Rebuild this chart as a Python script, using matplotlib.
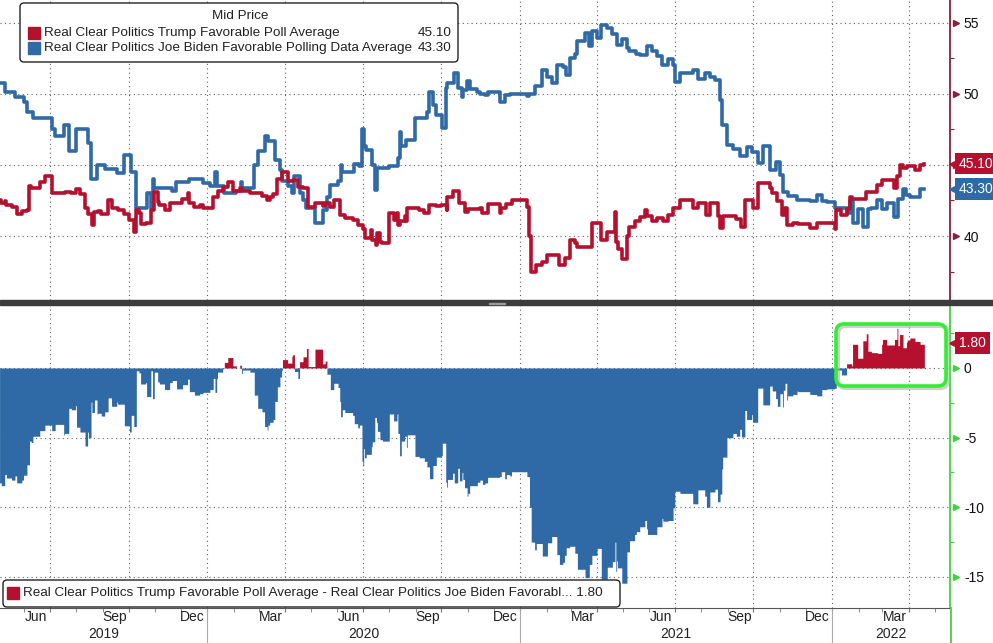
import pandas as pd
import matplotlib
matplotlib.use("Agg")
import matplotlib.pyplot as plt
import matplotlib.dates as mdates
import matplotlib.transforms as mtransforms
from matplotlib.patches import FancyBboxPatch, Rectangle
from matplotlib.lines import Line2D

# step points (date, value)
trump_dates = [
    "2019-05-03", "2019-05-05", "2019-05-09", "2019-05-11", "2019-05-17", "2019-05-23", "2019-05-29",
    "2019-06-04", "2019-06-07", "2019-06-09", "2019-06-19", "2019-06-25", "2019-07-03", "2019-07-18",
    "2019-07-26", "2019-07-31", "2019-08-05", "2019-08-11", "2019-08-15", "2019-08-19", "2019-08-22",
    "2019-08-26", "2019-08-30", "2019-09-07", "2019-09-11", "2019-09-18", "2019-09-26", "2019-10-02",
    "2019-10-07", "2019-10-10", "2019-10-13", "2019-10-15", "2019-10-21", "2019-10-27", "2019-10-31",
    "2019-11-04", "2019-11-06", "2019-11-12", "2019-11-18", "2019-12-03", "2019-12-09", "2019-12-11",
    "2019-12-17", "2019-12-23", "2019-12-27", "2020-01-08", "2020-01-13", "2020-01-19", "2020-01-25",
    "2020-01-31", "2020-02-08", "2020-02-11", "2020-02-20", "2020-03-05", "2020-03-11", "2020-03-14",
    "2020-03-18", "2020-03-23", "2020-03-28", "2020-04-04", "2020-04-10", "2020-04-16", "2020-04-22",
    "2020-04-28", "2020-05-06", "2020-05-15", "2020-05-18", "2020-05-24", "2020-05-28", "2020-06-04",
    "2020-06-10", "2020-06-19", "2020-06-25", "2020-07-01", "2020-07-03", "2020-07-11", "2020-07-12",
    "2020-07-17", "2020-07-18", "2020-07-21", "2020-07-24", "2020-08-01", "2020-08-06", "2020-08-10",
    "2020-08-11", "2020-08-13", "2020-08-19", "2020-08-21", "2020-08-22", "2020-09-05", "2020-09-11",
    "2020-09-17", "2020-09-25", "2020-10-01", "2020-10-07", "2020-10-08", "2020-10-14", "2020-10-22",
    "2020-10-28", "2020-11-01", "2020-11-15", "2020-11-18", "2020-11-24", "2020-12-08", "2020-12-10",
    "2020-12-16", "2020-12-22", "2021-01-09", "2021-01-12", "2021-01-14", "2021-01-20", "2021-01-27",
    "2021-02-02", "2021-02-16", "2021-02-22", "2021-02-28", "2021-03-06", "2021-03-09", "2021-03-26",
    "2021-04-06", "2021-04-13", "2021-04-22", "2021-04-23", "2021-04-25", "2021-04-30", "2021-05-06",
    "2021-05-09", "2021-05-15", "2021-05-21", "2021-05-27", "2021-05-30", "2021-06-04", "2021-06-10",
    "2021-06-17", "2021-06-23", "2021-06-29", "2021-07-07", "2021-07-22", "2021-07-28", "2021-08-07",
    "2021-08-11", "2021-08-20", "2021-08-23", "2021-08-26", "2021-09-11", "2021-09-17", "2021-09-21",
    "2021-09-30", "2021-10-06", "2021-10-20", "2021-10-23", "2021-10-29", "2021-11-04", "2021-11-07",
    "2021-11-09", "2021-11-16", "2021-11-22", "2021-12-06", "2021-12-14", "2022-01-04", "2022-01-06",
    "2022-01-12", "2022-01-18", "2022-01-22", "2022-01-24", "2022-02-10", "2022-02-23", "2022-03-01",
    "2022-03-15", "2022-03-18", "2022-03-21", "2022-03-25", "2022-03-30", "2022-04-08", "2022-04-14",
    "2022-04-19",
]
trump_vals = [
    42.5, 42.3, 42.45, 42.2, 42.05, 41.55, 41.75,
    41.8, 43.5, 43.4, 43.8, 44.2, 43.0, 43.1,
    43.0, 43.3, 42.95, 41.95, 41.55, 40.8, 41.7,
    41.75, 41.55, 42.55, 41.95, 41.8, 41.55, 41.1,
    40.3, 41.8, 41.65, 40.85, 40.95, 41.8, 43.1,
    42.4, 42.2, 41.8, 42.3, 42.6, 43.0, 42.3,
    42.05, 42.15, 41.95, 42.75, 43.2, 43.45, 43.8,
    43.2, 43.4, 43.2, 43.05, 42.8, 42.55, 42.75,
    42.95, 44.0, 44.5, 43.85, 43.95, 43.45, 43.35,
    42.05, 42.3, 42.1, 42.3, 42.05, 42.5, 41.5,
    41.3, 41.1, 40.8, 40.5, 39.85, 40.4, 39.7,
    39.35, 40.2, 39.6, 39.5, 41.6, 41.1, 41.6,
    40.8, 41.05, 41.4, 41.05, 41.95, 41.85, 41.6,
    42.2, 42.1, 42.2, 41.85, 42.75, 43.2, 42.3,
    41.7, 41.9, 41.95, 41.65, 42.25, 41.6, 41.95,
    42.25, 42.55, 42.05, 40.0, 37.5, 37.95, 38.2,
    38.65, 37.95, 38.45, 39.7, 39.5, 39.25, 40.95,
    39.7, 40.3, 41.7, 39.6, 39.1, 38.4, 40.0,
    40.6, 41.05, 41.35, 41.8, 41.4, 41.05, 41.25,
    41.05, 41.5, 41.95, 42.5, 41.95, 42.3, 41.5,
    42.3, 41.4, 40.55, 41.4, 41.2, 40.65, 42.55,
    42.0, 43.7, 43.35, 43.0, 42.45, 41.5, 42.0,
    40.8, 40.9, 40.85, 40.55, 40.9, 40.5, 41.8,
    41.45, 41.9, 42.75, 42.6, 43.1, 43.6, 43.95,
    43.4, 44.2, 45.0, 44.75, 44.9, 44.65, 45.0,
    45.1,
]

biden_dates = [
    "2019-05-03", "2019-05-09", "2019-05-21", "2019-05-31", "2019-06-04", "2019-06-11", "2019-07-03",
    "2019-07-07", "2019-07-17", "2019-07-23", "2019-08-01", "2019-08-14", "2019-08-18", "2019-08-25",
    "2019-09-03", "2019-09-17", "2019-09-26", "2019-10-04", "2019-10-10", "2019-10-22", "2019-10-27",
    "2019-10-29", "2019-10-31", "2019-11-06", "2019-11-21", "2019-11-26", "2019-12-11", "2019-12-27",
    "2020-01-04", "2020-01-10", "2020-01-12", "2020-01-21", "2020-02-04", "2020-02-10", "2020-02-11",
    "2020-02-25", "2020-02-29", "2020-03-08", "2020-03-12", "2020-03-20", "2020-03-26", "2020-03-29",
    "2020-04-04", "2020-04-09", "2020-04-12", "2020-04-18", "2020-04-22", "2020-04-26", "2020-05-06",
    "2020-05-15", "2020-05-20", "2020-05-24", "2020-06-02", "2020-06-05", "2020-06-07", "2020-06-21",
    "2020-06-27", "2020-06-30", "2020-07-02", "2020-07-05", "2020-07-12", "2020-07-15", "2020-07-18",
    "2020-08-01", "2020-08-11", "2020-08-13", "2020-08-15", "2020-08-21", "2020-08-31", "2020-09-14",
    "2020-09-17", "2020-09-21", "2020-09-25", "2020-10-02", "2020-10-06", "2020-10-08", "2020-10-16",
    "2020-10-20", "2020-10-25", "2020-10-26", "2020-10-31", "2020-11-03", "2020-11-12", "2020-11-15",
    "2020-11-21", "2020-11-24", "2020-12-08", "2020-12-14", "2020-12-20", "2021-01-09", "2021-01-12",
    "2021-01-18", "2021-01-27", "2021-02-02", "2021-02-07", "2021-02-13", "2021-02-20", "2021-02-24",
    "2021-02-28", "2021-03-06", "2021-03-09", "2021-03-18", "2021-03-23", "2021-03-26", "2021-04-01",
    "2021-04-06", "2021-04-13", "2021-04-19", "2021-04-24", "2021-04-30", "2021-05-06", "2021-05-09",
    "2021-05-17", "2021-05-21", "2021-05-29", "2021-06-04", "2021-06-10", "2021-06-16", "2021-06-23",
    "2021-06-29", "2021-07-01", "2021-07-07", "2021-07-22", "2021-07-28", "2021-08-05", "2021-08-11",
    "2021-08-17", "2021-08-23", "2021-08-25", "2021-08-31", "2021-09-07", "2021-09-15", "2021-09-23",
    "2021-09-29", "2021-10-06", "2021-10-12", "2021-10-20", "2021-10-27", "2021-11-01", "2021-11-05",
    "2021-11-10", "2021-11-21", "2021-12-06", "2021-12-14", "2021-12-20", "2021-12-26", "2022-01-04",
    "2022-01-18", "2022-01-22", "2022-01-25", "2022-01-31", "2022-02-06", "2022-02-12", "2022-02-16",
    "2022-02-23", "2022-02-28", "2022-03-06", "2022-03-15", "2022-03-19", "2022-03-25", "2022-03-29",
    "2022-04-02", "2022-04-14", "2022-04-19",
]
biden_vals = [
    50.75, 50.1, 49.8, 49.45, 48.75, 48.3, 47.5,
    47.05, 47.8, 46.0, 47.55, 46.55, 44.0, 45.0,
    44.7, 44.4, 45.7, 44.5, 42.0, 43.0, 42.0,
    44.0, 43.4, 43.35, 43.2, 43.8, 44.0, 43.7,
    43.5, 44.5, 43.5, 43.05, 43.2, 43.8, 43.35,
    45.0, 45.95, 47.0, 46.65, 45.35, 44.65, 43.9,
    43.5, 43.0, 44.2, 43.0, 42.55, 41.95, 40.95,
    41.8, 42.75, 43.6, 43.9, 45.0, 44.5, 45.1,
    44.9, 47.5, 46.3, 46.05, 45.0, 43.25, 44.75,
    44.9, 45.5, 47.35, 46.3, 46.75, 48.3, 48.7,
    50.15, 49.2, 48.5, 47.6, 50.4, 50.75, 51.45,
    50.4, 49.8, 50.3, 50.9, 50.35, 50.1, 50.0,
    49.9, 50.1, 49.4, 49.9, 50.0, 49.85, 50.0,
    50.55, 51.7, 51.2, 50.75, 52.05, 51.9, 51.35,
    52.5, 52.8, 53.7, 54.3, 53.35, 54.4, 53.9,
    54.85, 54.6, 54.2, 53.45, 53.85, 53.2, 53.0,
    52.8, 52.75, 53.35, 53.0, 52.65, 52.05, 52.45,
    52.0, 50.8, 51.5, 51.7, 51.05, 51.5, 51.2,
    51.0, 49.6, 47.8, 46.4, 46.1, 45.6, 46.25,
    45.9, 45.15, 46.35, 44.65, 45.2, 44.3, 43.1,
    42.8, 42.55, 42.45, 42.9, 42.45, 42.4, 41.95,
    41.6, 42.45, 40.9, 41.9, 40.65, 41.9, 42.0,
    42.55, 41.9, 42.3, 41.35, 42.6, 43.3, 42.9,
    42.75, 43.3, 43.3,
]

trump_name = "Real Clear Politics Trump Favorable Poll Average"
biden_name = "Real Clear Politics Joe Biden Favorable Polling Data Average"
spread_name = ("Real Clear Politics Trump Favorable Poll Average - "
               "Real Clear Politics Joe Biden Favorabl...")
top_ticks = [40, 45, 50, 55]
top_labels = ["40", "", "50", "55"]   # 45 sits under the value tag
top_minor = [37.5, 42.5, 47.5, 52.5]
bottom_ticks = [0, -5, -10, -15]
bottom_labels = ["0", "-5", "-10", "-15"]
bottom_minor = [2.5, -2.5, -7.5, -12.5]
month_names = {3: "Mar", 6: "Jun", 9: "Sep", 12: "Dec"}
years = [2019, 2020, 2021, 2022]

RED = "#b5112f"
BLUE = "#2f69a6"
MAROON = "#8a1f3f"
GREEN = "#3fd43f"
GRID = "#606060"

plt.rcParams["font.family"] = "Liberation Sans"

trump = pd.Series(trump_vals, index=pd.to_datetime(trump_dates))
biden = pd.Series(biden_vals, index=pd.to_datetime(biden_dates))
idx = trump.index.union(biden.index)
spread = trump.reindex(idx).ffill() - biden.reindex(idx).ffill()

W, H = 993, 643
fig = plt.figure(figsize=(W / 100, H / 100), dpi=100)
px = mtransforms.IdentityTransform()

ax1 = fig.add_axes([0, 1 - 300 / H, 950 / W, 300 / H])
ax2 = fig.add_axes([0, 1 - 608 / H, 950 / W, 303 / H])

xmin = pd.Timestamp("2019-05-03 12:00")
xmax = pd.Timestamp("2022-05-19 00:00")
quarters = [pd.Timestamp(y, m, 1) for y in years + [2023] for m in (1, 4, 7, 10)]
quarters = [d for d in quarters if xmin < d < xmax]

# top panel
ax1.step(biden.index, biden.values, where="post", color=BLUE, lw=2.6, zorder=3)
ax1.step(trump.index, trump.values, where="post", color=RED, lw=2.6, zorder=4)
ax1.set_ylim(35.5, 56.6)

# bottom panel: spread as bars
pos = spread.where(spread > 0, 0)
neg = spread.where(spread < 0, 0)
ax2.fill_between(spread.index, 0, neg.values, step="post", color=BLUE, lw=0, zorder=2)
ax2.fill_between(spread.index, 0, pos.values, step="post", color=RED, lw=0, zorder=2)
ax2.set_ylim(-17.23, 4.52)

for ax, ticks, labels, minor, scol in ((ax1, top_ticks, top_labels, top_minor, MAROON),
                                       (ax2, bottom_ticks, bottom_labels, bottom_minor, GREEN)):
    ax.set_xlim(xmin, xmax)
    ax.set_xticks(quarters)
    ax.yaxis.tick_right()
    ax.set_yticks(ticks)
    ax.set_yticklabels(labels)
    ax.set_yticks(minor, minor=True)
    ax.tick_params(axis="y", which="major", length=0, pad=10, labelsize=10, labelcolor="#111")
    ax.tick_params(axis="y", which="minor", length=3, width=0.8, color=scol)
    ax.grid(True, which="major", linestyle=(0, (1, 3)), color=GRID, lw=0.8, zorder=0)
    ax.set_axisbelow(True)
    for s in ("top", "left", "bottom"):
        ax.spines[s].set_visible(False)
    ax.spines["right"].set_color(scol)
    ax.spines["right"].set_linewidth(1.3)
    tri = mtransforms.blended_transform_factory(ax.transAxes, ax.transData)
    ax.plot([1.006] * len(ticks), ticks, ls="none", marker=">", ms=4.5, color=scol,
            transform=tri, clip_on=False)

ax1.tick_params(axis="x", length=0, labelbottom=False)

ax2.spines["bottom"].set_visible(True)
ax2.spines["bottom"].set_color("#555")
ax2.spines["bottom"].set_linewidth(0.8)
ax2.xaxis.set_minor_locator(mdates.MonthLocator())
ax2.tick_params(axis="x", which="both", length=3, color="#777", labelbottom=False)

# month and year labels under the axis
xt = mtransforms.blended_transform_factory(ax2.transData, ax2.transAxes)
for y in years:
    for m, name in month_names.items():
        d = pd.Timestamp(y, m, 15)
        if xmin < d < xmax:
            ax2.text(d, -0.03, name, transform=xt, ha="center", va="center", fontsize=10,
                     color="#222", clip_on=False)
    a = max(pd.Timestamp(y, 1, 1), xmin)
    b = min(pd.Timestamp(y + 1, 1, 1), xmax)
    ax2.text(a + (b - a) / 2, -0.086, str(y), transform=xt, ha="center", va="center",
             fontsize=10, color="#222", clip_on=False)
    if xmin < pd.Timestamp(y, 1, 1) < xmax:
        ax2.plot([pd.Timestamp(y, 1, 1)] * 2, [0, -0.12], transform=xt, color="#aaa",
                 lw=0.8, clip_on=False)

# value tags on the right axis
for ax, val, txt, col in ((ax1, trump.iloc[-1], "45.10", RED),
                          (ax1, biden.iloc[-1], "43.30", BLUE),
                          (ax2, spread.iloc[-1], "1.80", RED)):
    tri = mtransforms.blended_transform_factory(ax.transAxes, ax.transData)
    ax.plot([1.0065], [val], marker="<", ms=10, color=col, transform=tri, clip_on=False,
            zorder=6)
    ax.text(1.0095, val, txt, transform=tri, ha="left", va="center", color="white",
            fontsize=10, clip_on=False, zorder=7,
            bbox=dict(boxstyle="square,pad=0.28", fc=col, ec="none"))

# green right spine continues to the bottom edge
fig.lines.append(Line2D([950.5, 950.5], [0, H - 608], transform=px, color=GREEN, lw=1.3))

# separator between panels
fig.patches.append(Rectangle((0, H - 305), W, 5, transform=px, color="#3c3c3c", zorder=5))
fig.patches.append(Rectangle((489, H - 303.5), 16, 1, transform=px, color="#9a9a9a", zorder=6))

# top legend
fig.patches.append(FancyBboxPatch((20, H - 62), 438, 59, boxstyle="round,pad=0,rounding_size=4",
                                  transform=px, fc="white", ec="#222", lw=1, zorder=8))
fig.text(240, H - 16, "Mid Price", transform=px, ha="center", va="center", fontsize=9.7,
         color="#222", zorder=9)
for row_y, name, col, txt in ((33, trump_name, RED, "45.10"), (48, biden_name, BLUE, "43.30")):
    fig.patches.append(Rectangle((28, H - row_y - 6), 12, 12, transform=px, color=col, zorder=9))
    fig.text(44, H - row_y, name, transform=px, ha="left", va="center", fontsize=9.7,
             color="#222", zorder=9)
    fig.text(452, H - row_y, txt, transform=px, ha="right", va="center", fontsize=9.7,
             color="#222", zorder=9)

# bottom legend
fig.patches.append(FancyBboxPatch((3, H - 607), 617, 27, boxstyle="round,pad=0,rounding_size=4",
                                  transform=px, fc="white", ec="#222", lw=1, zorder=8))
fig.patches.append(Rectangle((7, H - 599), 12, 12, transform=px, color=RED, zorder=9))
fig.text(23, H - 593, spread_name + " 1.80", transform=px, ha="left", va="center",
         fontsize=9.7, color="#222", zorder=9)

# green highlight around the latest positive spread
fig.patches.append(FancyBboxPatch((838, H - 388), 110, 62, boxstyle="round,pad=0,rounding_size=8",
                                  transform=px, fc="none", ec="#b0b0b0", lw=3, alpha=0.6, zorder=7))
fig.patches.append(FancyBboxPatch((836, H - 386), 110, 62, boxstyle="round,pad=0,rounding_size=8",
                                  transform=px, fc="none", ec="#33ee33", lw=2.6, zorder=8))

fig.savefig("out.png", dpi=100, facecolor="white")
